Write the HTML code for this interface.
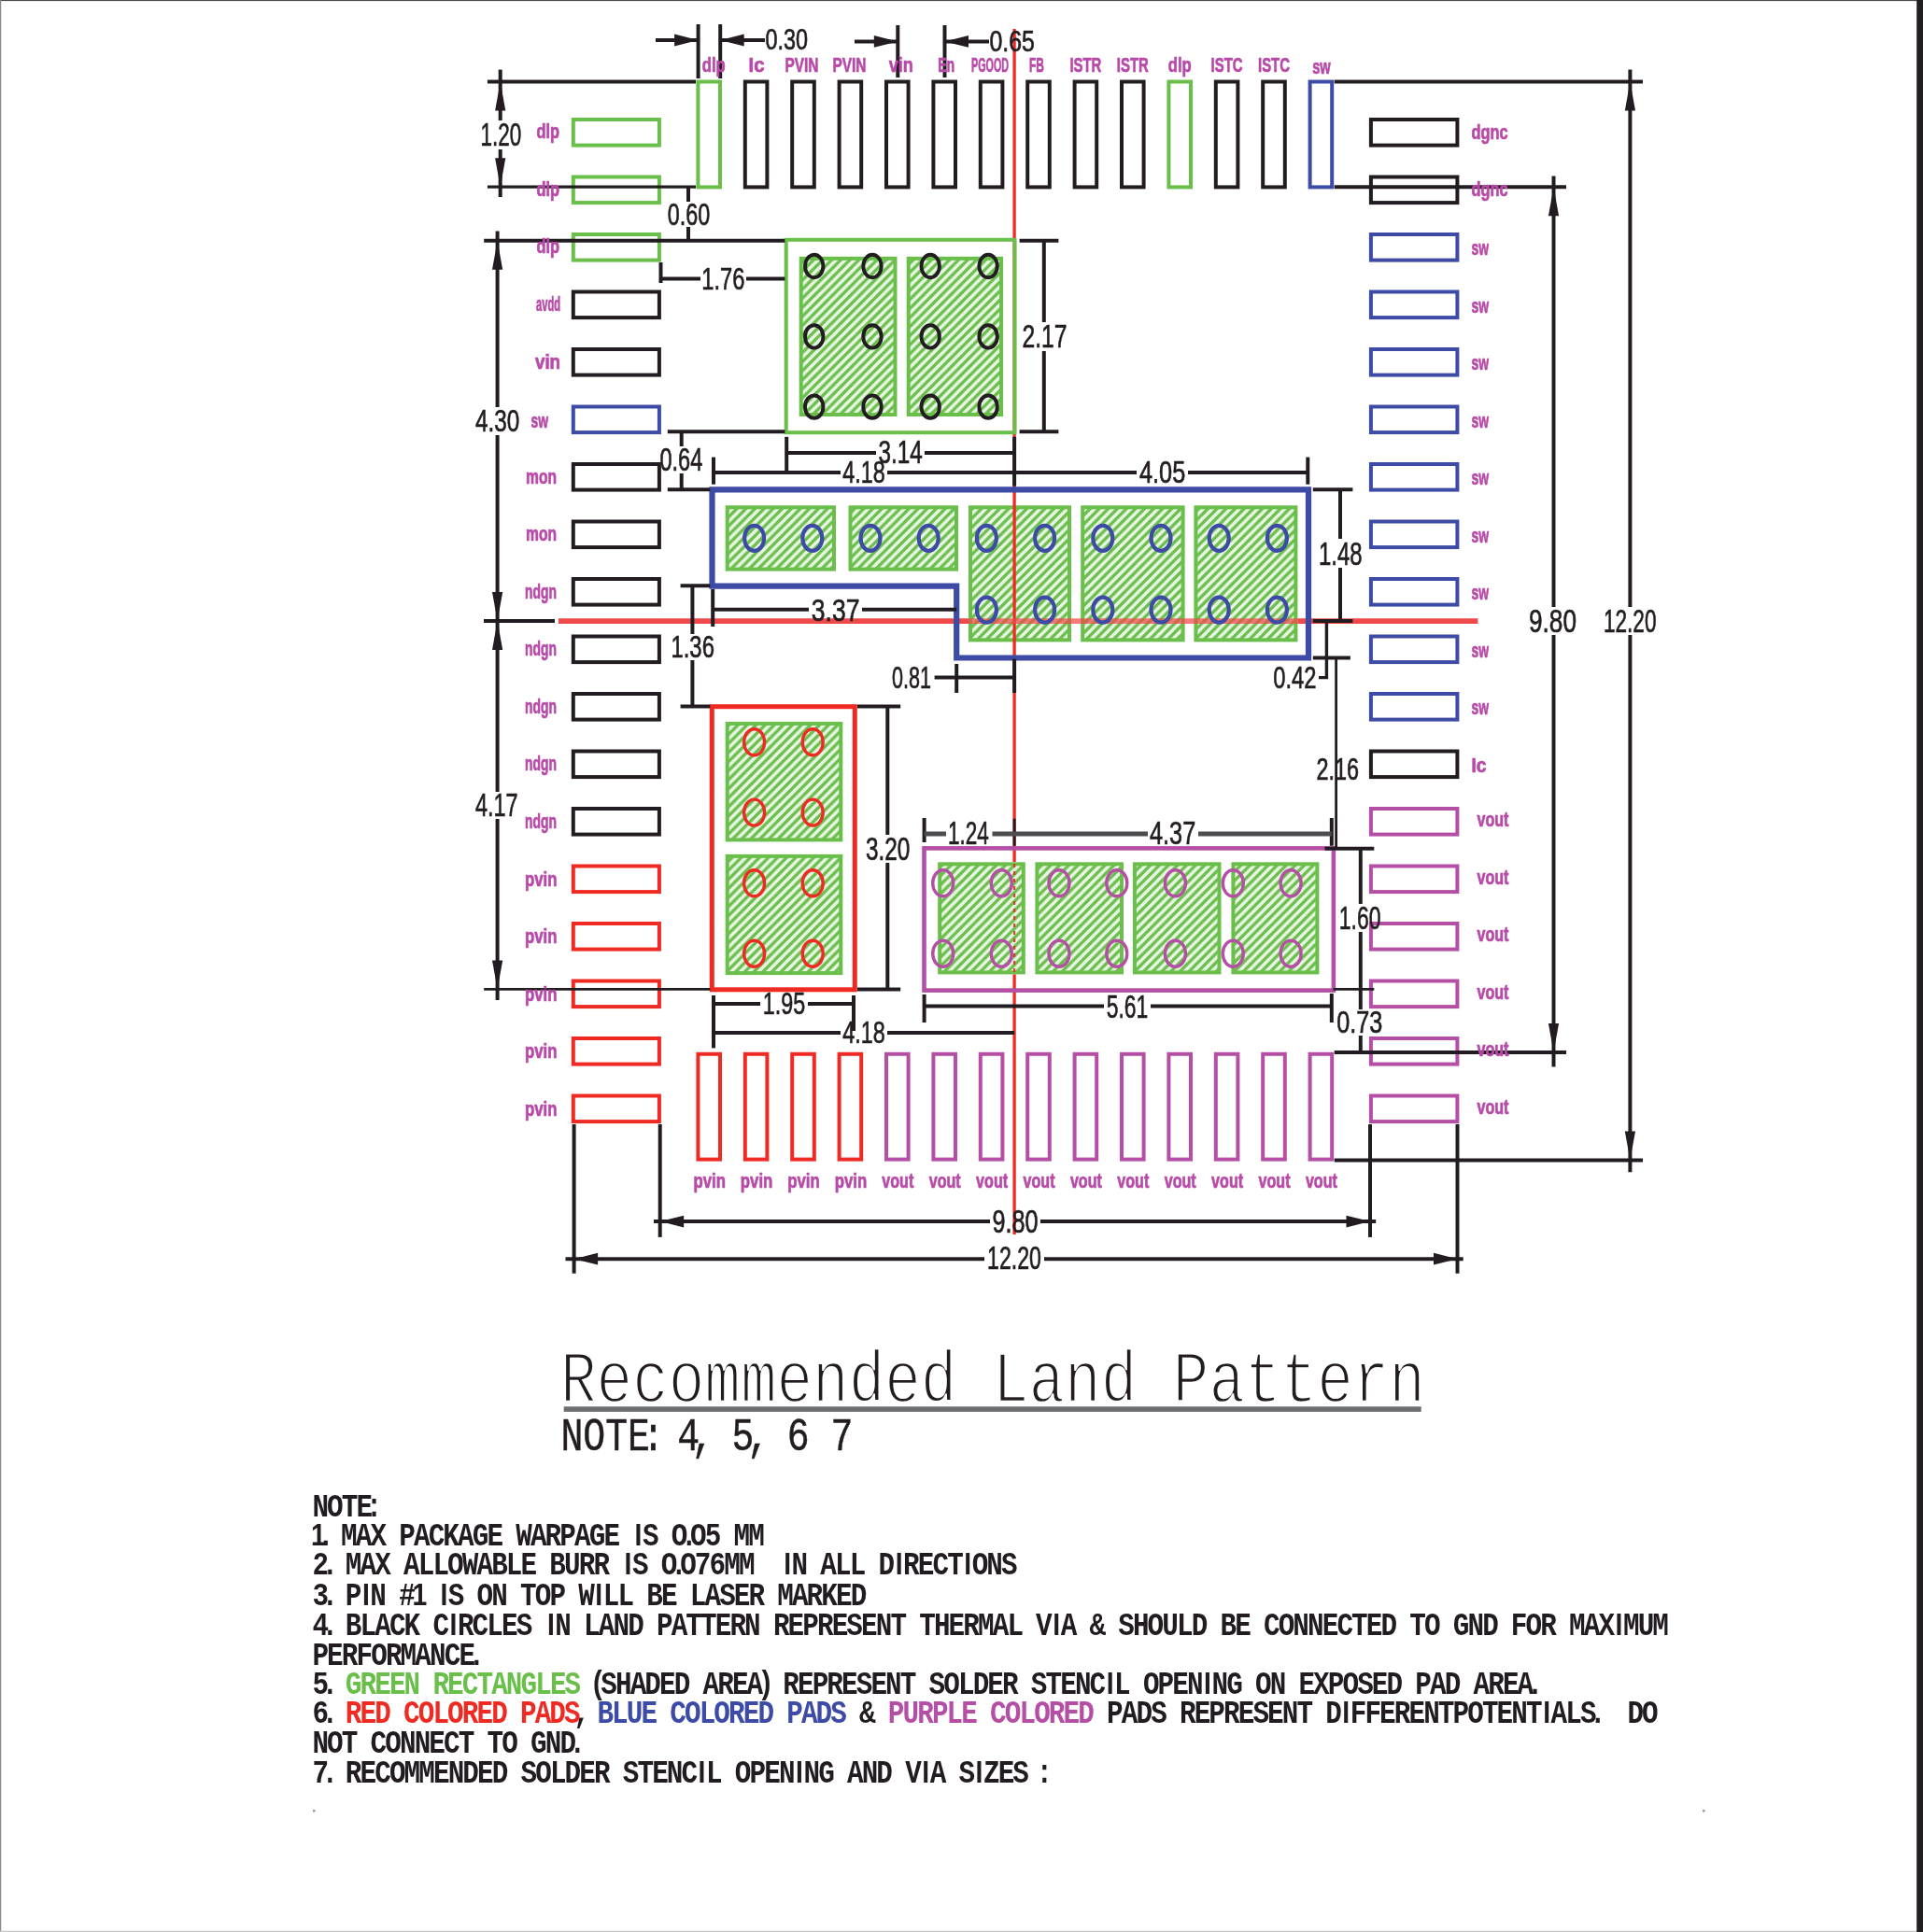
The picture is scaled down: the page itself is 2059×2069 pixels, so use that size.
<!DOCTYPE html>
<html><head><meta charset="utf-8"><title>Recommended Land Pattern</title>
<style>
html,body{margin:0;padding:0;background:#fff;}
body{width:2059px;height:2069px;overflow:hidden;position:relative;font-family:"Liberation Sans",sans-serif;}
svg{position:absolute;left:0;top:0;display:block;}
</style></head><body>
<svg width="2059" height="2069" viewBox="0 0 2059 2069">
<defs>
<pattern id="h" width="9.7" height="9.7" patternUnits="userSpaceOnUse">
<rect width="9.7" height="9.7" fill="#6abf4b"/>
<path d="M-2.425 2.425L2.425 -2.425M-2.425 12.125L12.125 -2.425M7.275 12.125L12.125 7.275" stroke="#fff" stroke-width="3.6" opacity="0.85"/>
</pattern>
<filter id="bl" x="0" y="0" width="100%" height="100%" filterUnits="userSpaceOnUse"><feGaussianBlur stdDeviation="0.7"/></filter>
</defs>
<rect width="2059" height="2069" fill="#fff"/>
<g filter="url(#bl)">
<rect x="855.7" y="274.8" width="104.8" height="171.2" fill="#6abf4b"/>
<rect x="859.7" y="278.8" width="96.8" height="163.2" fill="url(#h)"/>
<rect x="970.7" y="274.8" width="103.4" height="171.2" fill="#6abf4b"/>
<rect x="974.7" y="278.8" width="95.4" height="163.2" fill="url(#h)"/>
<rect x="776.7" y="541.3" width="118.3" height="70.3" fill="#6abf4b"/>
<rect x="780.7" y="545.3" width="110.3" height="62.3" fill="url(#h)"/>
<rect x="908.5" y="541.3" width="117.5" height="70.3" fill="#6abf4b"/>
<rect x="912.5" y="545.3" width="109.5" height="62.3" fill="url(#h)"/>
<rect x="1037.0" y="541.3" width="110.0" height="146.1" fill="#6abf4b"/>
<rect x="1041.0" y="545.3" width="102.0" height="138.1" fill="url(#h)"/>
<rect x="1157.2" y="541.3" width="111.4" height="146.1" fill="#6abf4b"/>
<rect x="1161.2" y="545.3" width="103.4" height="138.1" fill="url(#h)"/>
<rect x="1278.4" y="541.3" width="111.0" height="146.1" fill="#6abf4b"/>
<rect x="1282.4" y="545.3" width="103.0" height="138.1" fill="url(#h)"/>
<rect x="776.7" y="772.9" width="125.6" height="128.5" fill="#6abf4b"/>
<rect x="780.7" y="776.9" width="117.6" height="120.5" fill="url(#h)"/>
<rect x="776.7" y="914.9" width="125.6" height="129.2" fill="#6abf4b"/>
<rect x="780.7" y="918.9" width="117.6" height="121.2" fill="url(#h)"/>
<rect x="1004.2" y="923.3" width="93.6" height="120.1" fill="#6abf4b"/>
<rect x="1008.2" y="927.3" width="85.6" height="112.1" fill="url(#h)"/>
<rect x="1108.4" y="923.3" width="94.6" height="120.1" fill="#6abf4b"/>
<rect x="1112.4" y="927.3" width="86.6" height="112.1" fill="url(#h)"/>
<rect x="1212.9" y="923.3" width="94.6" height="120.1" fill="#6abf4b"/>
<rect x="1216.9" y="927.3" width="86.6" height="112.1" fill="url(#h)"/>
<rect x="1318.4" y="923.3" width="94.0" height="120.1" fill="#6abf4b"/>
<rect x="1322.4" y="927.3" width="86.0" height="112.1" fill="url(#h)"/>
<path d="M1086.1 31.0L1086.1 923.0" stroke="#ee2b24" stroke-width="3.3" fill="none"/>
<path d="M1086.1 1043.5L1086.1 1322.0" stroke="#ee2b24" stroke-width="3.3" fill="none"/>
<path d="M1086.1 925V1042" stroke="#ee2b24" stroke-width="2.2" stroke-dasharray="4 4" opacity="0.9"/>
<path d="M598.0 665.1L1037.0 665.1" stroke="#f04848" stroke-width="5.6" fill="none"/>
<path d="M1389.4 665.1L1582.4 665.1" stroke="#f04848" stroke-width="5.6" fill="none"/>
<path d="M1037 665.1H1389.4" stroke="#f04848" stroke-width="5.6" opacity="0.72"/>
<rect x="841.7" y="256.8" width="244.9" height="206.4" stroke="#6abf4b" stroke-width="4" fill="none"/>
<path d="M762.5 524.4H1401V704.5H1024.2V627.6H762.5Z" stroke="#3c4ba6" stroke-width="6.2" fill="none"/>
<rect x="762.3" y="756.7" width="153.0" height="303.1" stroke="#ee2b24" stroke-width="5.0" fill="none"/>
<rect x="989.5" y="908.4" width="438.4" height="152.2" stroke="#b550a6" stroke-width="4.6" fill="none"/>
<ellipse cx="871.7" cy="285.0" rx="9.7" ry="12.2" stroke="#231f20" stroke-width="3.9" fill="none"/>
<ellipse cx="871.7" cy="360.4" rx="9.7" ry="12.2" stroke="#231f20" stroke-width="3.9" fill="none"/>
<ellipse cx="871.7" cy="435.7" rx="9.7" ry="12.2" stroke="#231f20" stroke-width="3.9" fill="none"/>
<ellipse cx="934.0" cy="285.0" rx="9.7" ry="12.2" stroke="#231f20" stroke-width="3.9" fill="none"/>
<ellipse cx="934.0" cy="360.4" rx="9.7" ry="12.2" stroke="#231f20" stroke-width="3.9" fill="none"/>
<ellipse cx="934.0" cy="435.7" rx="9.7" ry="12.2" stroke="#231f20" stroke-width="3.9" fill="none"/>
<ellipse cx="996.2" cy="285.0" rx="9.7" ry="12.2" stroke="#231f20" stroke-width="3.9" fill="none"/>
<ellipse cx="996.2" cy="360.4" rx="9.7" ry="12.2" stroke="#231f20" stroke-width="3.9" fill="none"/>
<ellipse cx="996.2" cy="435.7" rx="9.7" ry="12.2" stroke="#231f20" stroke-width="3.9" fill="none"/>
<ellipse cx="1058.1" cy="285.0" rx="9.7" ry="12.2" stroke="#231f20" stroke-width="3.9" fill="none"/>
<ellipse cx="1058.1" cy="360.4" rx="9.7" ry="12.2" stroke="#231f20" stroke-width="3.9" fill="none"/>
<ellipse cx="1058.1" cy="435.7" rx="9.7" ry="12.2" stroke="#231f20" stroke-width="3.9" fill="none"/>
<ellipse cx="807.6" cy="576.3" rx="10.5" ry="13.5" stroke="#3c4ba6" stroke-width="4.2" fill="none"/>
<ellipse cx="869.8" cy="576.3" rx="10.5" ry="13.5" stroke="#3c4ba6" stroke-width="4.2" fill="none"/>
<ellipse cx="932.0" cy="576.3" rx="10.5" ry="13.5" stroke="#3c4ba6" stroke-width="4.2" fill="none"/>
<ellipse cx="994.2" cy="576.3" rx="10.5" ry="13.5" stroke="#3c4ba6" stroke-width="4.2" fill="none"/>
<ellipse cx="1056.4" cy="576.3" rx="10.5" ry="13.5" stroke="#3c4ba6" stroke-width="4.2" fill="none"/>
<ellipse cx="1056.4" cy="653.1" rx="10.5" ry="13.5" stroke="#3c4ba6" stroke-width="4.2" fill="none"/>
<ellipse cx="1118.6" cy="576.3" rx="10.5" ry="13.5" stroke="#3c4ba6" stroke-width="4.2" fill="none"/>
<ellipse cx="1118.6" cy="653.1" rx="10.5" ry="13.5" stroke="#3c4ba6" stroke-width="4.2" fill="none"/>
<ellipse cx="1180.8" cy="576.3" rx="10.5" ry="13.5" stroke="#3c4ba6" stroke-width="4.2" fill="none"/>
<ellipse cx="1180.8" cy="653.1" rx="10.5" ry="13.5" stroke="#3c4ba6" stroke-width="4.2" fill="none"/>
<ellipse cx="1243.0" cy="576.3" rx="10.5" ry="13.5" stroke="#3c4ba6" stroke-width="4.2" fill="none"/>
<ellipse cx="1243.0" cy="653.1" rx="10.5" ry="13.5" stroke="#3c4ba6" stroke-width="4.2" fill="none"/>
<ellipse cx="1305.2" cy="576.3" rx="10.5" ry="13.5" stroke="#3c4ba6" stroke-width="4.2" fill="none"/>
<ellipse cx="1305.2" cy="653.1" rx="10.5" ry="13.5" stroke="#3c4ba6" stroke-width="4.2" fill="none"/>
<ellipse cx="1367.4" cy="576.3" rx="10.5" ry="13.5" stroke="#3c4ba6" stroke-width="4.2" fill="none"/>
<ellipse cx="1367.4" cy="653.1" rx="10.5" ry="13.5" stroke="#3c4ba6" stroke-width="4.2" fill="none"/>
<ellipse cx="807.6" cy="794.8" rx="11" ry="14" stroke="#ee2b24" stroke-width="3.4" fill="none"/>
<ellipse cx="807.6" cy="870.1" rx="11" ry="14" stroke="#ee2b24" stroke-width="3.4" fill="none"/>
<ellipse cx="807.6" cy="945.8" rx="11" ry="14" stroke="#ee2b24" stroke-width="3.4" fill="none"/>
<ellipse cx="807.6" cy="1021.2" rx="11" ry="14" stroke="#ee2b24" stroke-width="3.4" fill="none"/>
<ellipse cx="870.2" cy="794.8" rx="11" ry="14" stroke="#ee2b24" stroke-width="3.4" fill="none"/>
<ellipse cx="870.2" cy="870.1" rx="11" ry="14" stroke="#ee2b24" stroke-width="3.4" fill="none"/>
<ellipse cx="870.2" cy="945.8" rx="11" ry="14" stroke="#ee2b24" stroke-width="3.4" fill="none"/>
<ellipse cx="870.2" cy="1021.2" rx="11" ry="14" stroke="#ee2b24" stroke-width="3.4" fill="none"/>
<ellipse cx="1009.7" cy="945.8" rx="11" ry="14" stroke="#b550a6" stroke-width="3.4" fill="none"/>
<ellipse cx="1009.7" cy="1021.2" rx="11" ry="14" stroke="#b550a6" stroke-width="3.4" fill="none"/>
<ellipse cx="1072.3" cy="945.8" rx="11" ry="14" stroke="#b550a6" stroke-width="3.4" fill="none"/>
<ellipse cx="1072.3" cy="1021.2" rx="11" ry="14" stroke="#b550a6" stroke-width="3.4" fill="none"/>
<ellipse cx="1134.0" cy="945.8" rx="11" ry="14" stroke="#b550a6" stroke-width="3.4" fill="none"/>
<ellipse cx="1134.0" cy="1021.2" rx="11" ry="14" stroke="#b550a6" stroke-width="3.4" fill="none"/>
<ellipse cx="1195.8" cy="945.8" rx="11" ry="14" stroke="#b550a6" stroke-width="3.4" fill="none"/>
<ellipse cx="1195.8" cy="1021.2" rx="11" ry="14" stroke="#b550a6" stroke-width="3.4" fill="none"/>
<ellipse cx="1258.4" cy="945.8" rx="11" ry="14" stroke="#b550a6" stroke-width="3.4" fill="none"/>
<ellipse cx="1258.4" cy="1021.2" rx="11" ry="14" stroke="#b550a6" stroke-width="3.4" fill="none"/>
<ellipse cx="1320.3" cy="945.8" rx="11" ry="14" stroke="#b550a6" stroke-width="3.4" fill="none"/>
<ellipse cx="1320.3" cy="1021.2" rx="11" ry="14" stroke="#b550a6" stroke-width="3.4" fill="none"/>
<ellipse cx="1382.1" cy="945.8" rx="11" ry="14" stroke="#b550a6" stroke-width="3.4" fill="none"/>
<ellipse cx="1382.1" cy="1021.2" rx="11" ry="14" stroke="#b550a6" stroke-width="3.4" fill="none"/>
<rect x="747.4" y="87.5" width="23.6" height="112.9" stroke="#6abf4b" stroke-width="4.0" fill="none"/>
<rect x="747.4" y="1128.8" width="23.6" height="112.8" stroke="#ee2b24" stroke-width="4.0" fill="none"/>
<rect x="797.8" y="87.5" width="23.6" height="112.9" stroke="#231f20" stroke-width="4.0" fill="none"/>
<rect x="797.8" y="1128.8" width="23.6" height="112.8" stroke="#ee2b24" stroke-width="4.0" fill="none"/>
<rect x="848.2" y="87.5" width="23.6" height="112.9" stroke="#231f20" stroke-width="4.0" fill="none"/>
<rect x="848.2" y="1128.8" width="23.6" height="112.8" stroke="#ee2b24" stroke-width="4.0" fill="none"/>
<rect x="898.6" y="87.5" width="23.6" height="112.9" stroke="#231f20" stroke-width="4.0" fill="none"/>
<rect x="898.6" y="1128.8" width="23.6" height="112.8" stroke="#ee2b24" stroke-width="4.0" fill="none"/>
<rect x="949.0" y="87.5" width="23.6" height="112.9" stroke="#231f20" stroke-width="4.0" fill="none"/>
<rect x="949.0" y="1128.8" width="23.6" height="112.8" stroke="#b550a6" stroke-width="4.0" fill="none"/>
<rect x="999.4" y="87.5" width="23.6" height="112.9" stroke="#231f20" stroke-width="4.0" fill="none"/>
<rect x="999.4" y="1128.8" width="23.6" height="112.8" stroke="#b550a6" stroke-width="4.0" fill="none"/>
<rect x="1049.8" y="87.5" width="23.6" height="112.9" stroke="#231f20" stroke-width="4.0" fill="none"/>
<rect x="1049.8" y="1128.8" width="23.6" height="112.8" stroke="#b550a6" stroke-width="4.0" fill="none"/>
<rect x="1100.2" y="87.5" width="23.6" height="112.9" stroke="#231f20" stroke-width="4.0" fill="none"/>
<rect x="1100.2" y="1128.8" width="23.6" height="112.8" stroke="#b550a6" stroke-width="4.0" fill="none"/>
<rect x="1150.6" y="87.5" width="23.6" height="112.9" stroke="#231f20" stroke-width="4.0" fill="none"/>
<rect x="1150.6" y="1128.8" width="23.6" height="112.8" stroke="#b550a6" stroke-width="4.0" fill="none"/>
<rect x="1201.0" y="87.5" width="23.6" height="112.9" stroke="#231f20" stroke-width="4.0" fill="none"/>
<rect x="1201.0" y="1128.8" width="23.6" height="112.8" stroke="#b550a6" stroke-width="4.0" fill="none"/>
<rect x="1251.4" y="87.5" width="23.6" height="112.9" stroke="#6abf4b" stroke-width="4.0" fill="none"/>
<rect x="1251.4" y="1128.8" width="23.6" height="112.8" stroke="#b550a6" stroke-width="4.0" fill="none"/>
<rect x="1301.8" y="87.5" width="23.6" height="112.9" stroke="#231f20" stroke-width="4.0" fill="none"/>
<rect x="1301.8" y="1128.8" width="23.6" height="112.8" stroke="#b550a6" stroke-width="4.0" fill="none"/>
<rect x="1352.2" y="87.5" width="23.6" height="112.9" stroke="#231f20" stroke-width="4.0" fill="none"/>
<rect x="1352.2" y="1128.8" width="23.6" height="112.8" stroke="#b550a6" stroke-width="4.0" fill="none"/>
<rect x="1402.6" y="87.5" width="23.6" height="112.9" stroke="#3c4ba6" stroke-width="4.0" fill="none"/>
<rect x="1402.6" y="1128.8" width="23.6" height="112.8" stroke="#b550a6" stroke-width="4.0" fill="none"/>
<rect x="613.8" y="128.0" width="92.1" height="27.6" stroke="#6abf4b" stroke-width="4.0" fill="none"/>
<rect x="1467.9" y="128.0" width="92.5" height="27.6" stroke="#231f20" stroke-width="4.0" fill="none"/>
<rect x="613.8" y="189.5" width="92.1" height="27.6" stroke="#6abf4b" stroke-width="4.0" fill="none"/>
<rect x="1467.9" y="189.5" width="92.5" height="27.6" stroke="#231f20" stroke-width="4.0" fill="none"/>
<rect x="613.8" y="251.0" width="92.1" height="27.6" stroke="#6abf4b" stroke-width="4.0" fill="none"/>
<rect x="1467.9" y="251.0" width="92.5" height="27.6" stroke="#3c4ba6" stroke-width="4.0" fill="none"/>
<rect x="613.8" y="312.5" width="92.1" height="27.6" stroke="#231f20" stroke-width="4.0" fill="none"/>
<rect x="1467.9" y="312.5" width="92.5" height="27.6" stroke="#3c4ba6" stroke-width="4.0" fill="none"/>
<rect x="613.8" y="374.0" width="92.1" height="27.6" stroke="#231f20" stroke-width="4.0" fill="none"/>
<rect x="1467.9" y="374.0" width="92.5" height="27.6" stroke="#3c4ba6" stroke-width="4.0" fill="none"/>
<rect x="613.8" y="435.5" width="92.1" height="27.6" stroke="#3c4ba6" stroke-width="4.0" fill="none"/>
<rect x="1467.9" y="435.5" width="92.5" height="27.6" stroke="#3c4ba6" stroke-width="4.0" fill="none"/>
<rect x="613.8" y="497.0" width="92.1" height="27.6" stroke="#231f20" stroke-width="4.0" fill="none"/>
<rect x="1467.9" y="497.0" width="92.5" height="27.6" stroke="#3c4ba6" stroke-width="4.0" fill="none"/>
<rect x="613.8" y="558.5" width="92.1" height="27.6" stroke="#231f20" stroke-width="4.0" fill="none"/>
<rect x="1467.9" y="558.5" width="92.5" height="27.6" stroke="#3c4ba6" stroke-width="4.0" fill="none"/>
<rect x="613.8" y="620.0" width="92.1" height="27.6" stroke="#231f20" stroke-width="4.0" fill="none"/>
<rect x="1467.9" y="620.0" width="92.5" height="27.6" stroke="#3c4ba6" stroke-width="4.0" fill="none"/>
<rect x="613.8" y="681.5" width="92.1" height="27.6" stroke="#231f20" stroke-width="4.0" fill="none"/>
<rect x="1467.9" y="681.5" width="92.5" height="27.6" stroke="#3c4ba6" stroke-width="4.0" fill="none"/>
<rect x="613.8" y="743.0" width="92.1" height="27.6" stroke="#231f20" stroke-width="4.0" fill="none"/>
<rect x="1467.9" y="743.0" width="92.5" height="27.6" stroke="#3c4ba6" stroke-width="4.0" fill="none"/>
<rect x="613.8" y="804.5" width="92.1" height="27.6" stroke="#231f20" stroke-width="4.0" fill="none"/>
<rect x="1467.9" y="804.5" width="92.5" height="27.6" stroke="#231f20" stroke-width="4.0" fill="none"/>
<rect x="613.8" y="866.0" width="92.1" height="27.6" stroke="#231f20" stroke-width="4.0" fill="none"/>
<rect x="1467.9" y="866.0" width="92.5" height="27.6" stroke="#b550a6" stroke-width="4.0" fill="none"/>
<rect x="613.8" y="927.5" width="92.1" height="27.6" stroke="#ee2b24" stroke-width="4.0" fill="none"/>
<rect x="1467.9" y="927.5" width="92.5" height="27.6" stroke="#b550a6" stroke-width="4.0" fill="none"/>
<rect x="613.8" y="989.0" width="92.1" height="27.6" stroke="#ee2b24" stroke-width="4.0" fill="none"/>
<rect x="1467.9" y="989.0" width="92.5" height="27.6" stroke="#b550a6" stroke-width="4.0" fill="none"/>
<rect x="613.8" y="1050.5" width="92.1" height="27.6" stroke="#ee2b24" stroke-width="4.0" fill="none"/>
<rect x="1467.9" y="1050.5" width="92.5" height="27.6" stroke="#b550a6" stroke-width="4.0" fill="none"/>
<rect x="613.8" y="1112.0" width="92.1" height="27.6" stroke="#ee2b24" stroke-width="4.0" fill="none"/>
<rect x="1467.9" y="1112.0" width="92.5" height="27.6" stroke="#b550a6" stroke-width="4.0" fill="none"/>
<rect x="613.8" y="1173.5" width="92.1" height="27.6" stroke="#ee2b24" stroke-width="4.0" fill="none"/>
<rect x="1467.9" y="1173.5" width="92.5" height="27.6" stroke="#b550a6" stroke-width="4.0" fill="none"/>
<path d="M747.6 26.0L747.6 84.0" stroke="#231f20" stroke-width="4.0" fill="none"/>
<path d="M771.2 26.0L771.2 84.0" stroke="#231f20" stroke-width="4.0" fill="none"/>
<path d="M702.0 43.0L747.6 43.0" stroke="#231f20" stroke-width="4.0" fill="none"/>
<polygon points="747.6,43.0 722.1,36.6 722.1,49.4" fill="#231f20"/>
<path d="M771.2 43.0L819.0 43.0" stroke="#231f20" stroke-width="4.0" fill="none"/>
<polygon points="771.2,43.0 796.7,36.6 796.7,49.4" fill="#231f20"/>
<text transform="translate(819.5,53.0) scale(0.7647,1)" font-family="Liberation Sans" font-weight="normal" font-size="30.57" fill="#231f20" stroke="#231f20" stroke-width="0.70">0.30</text>
<path d="M961.3 27.0L961.3 83.0" stroke="#231f20" stroke-width="4.0" fill="none"/>
<path d="M1011.5 27.0L1011.5 83.0" stroke="#231f20" stroke-width="4.0" fill="none"/>
<path d="M915.0 44.4L961.3 44.4" stroke="#231f20" stroke-width="4.0" fill="none"/>
<polygon points="961.3,44.4 935.8,38.0 935.8,50.8" fill="#231f20"/>
<path d="M1011.5 44.4L1059.0 44.4" stroke="#231f20" stroke-width="4.0" fill="none"/>
<polygon points="1011.5,44.4 1037.0,38.0 1037.0,50.8" fill="#231f20"/>
<text transform="translate(1059.5,54.8) scale(0.8151,1)" font-family="Liberation Sans" font-weight="normal" font-size="30.57" fill="#231f20" stroke="#231f20" stroke-width="0.70">0.65</text>
<path d="M521.9 87.4L745.0 87.4" stroke="#231f20" stroke-width="4.0" fill="none"/>
<path d="M521.9 200.2L745.0 200.2" stroke="#231f20" stroke-width="3.2" fill="none"/>
<path d="M535.7 74.6L535.7 129.0" stroke="#231f20" stroke-width="4.0" fill="none"/>
<path d="M535.7 160.0L535.7 211.0" stroke="#231f20" stroke-width="4.0" fill="none"/>
<polygon points="535.7,87.4 530.1,118.4 541.3,118.4" fill="#231f20"/>
<polygon points="535.7,200.2 530.1,169.2 541.3,169.2" fill="#231f20"/>
<text transform="translate(514.6,156.0) scale(0.6441,1)" font-family="Liberation Sans" font-weight="normal" font-size="34.86" fill="#231f20" stroke="#231f20" stroke-width="0.70">1.20</text>
<path d="M737.0 200.0L737.0 216.0" stroke="#231f20" stroke-width="4.0" fill="none"/>
<path d="M737.0 243.0L737.0 258.5" stroke="#231f20" stroke-width="4.0" fill="none"/>
<text transform="translate(714.8,240.5) scale(0.7084,1)" font-family="Liberation Sans" font-weight="normal" font-size="33.00" fill="#231f20" stroke="#231f20" stroke-width="0.70">0.60</text>
<path d="M518.2 257.7L840.4 257.7" stroke="#231f20" stroke-width="4.0" fill="none"/>
<path d="M1091.6 257.7L1133.4 257.7" stroke="#231f20" stroke-width="4.0" fill="none"/>
<path d="M532.6 247.5L532.6 436.0" stroke="#231f20" stroke-width="4.0" fill="none"/>
<path d="M532.6 466.0L532.6 665.0" stroke="#231f20" stroke-width="4.0" fill="none"/>
<polygon points="532.6,257.7 527.0,288.7 538.2,288.7" fill="#231f20"/>
<polygon points="532.6,665.0 527.0,634.0 538.2,634.0" fill="#231f20"/>
<text transform="translate(509.0,461.8) scale(0.7348,1)" font-family="Liberation Sans" font-weight="normal" font-size="33.14" fill="#231f20" stroke="#231f20" stroke-width="0.70">4.30</text>
<path d="M518.0 665.0L594.0 665.0" stroke="#231f20" stroke-width="4.0" fill="none"/>
<path d="M707.5 281.0L707.5 303.0" stroke="#231f20" stroke-width="4.0" fill="none"/>
<path d="M707.5 298.5L750.0 298.5" stroke="#231f20" stroke-width="4.0" fill="none"/>
<path d="M799.0 298.5L840.4 298.5" stroke="#231f20" stroke-width="4.0" fill="none"/>
<text transform="translate(751.2,309.6) scale(0.7162,1)" font-family="Liberation Sans" font-weight="normal" font-size="33.14" fill="#231f20" stroke="#231f20" stroke-width="0.70">1.76</text>
<path d="M1117.8 257.7L1117.8 345.0" stroke="#231f20" stroke-width="4.0" fill="none"/>
<path d="M1117.8 376.0L1117.8 462.3" stroke="#231f20" stroke-width="4.0" fill="none"/>
<path d="M1091.6 462.3L1133.4 462.3" stroke="#231f20" stroke-width="4.0" fill="none"/>
<text transform="translate(1094.5,372.2) scale(0.6989,1)" font-family="Liberation Sans" font-weight="normal" font-size="35.29" fill="#231f20" stroke="#231f20" stroke-width="0.70">2.17</text>
<path d="M714.8 462.3L840.4 462.3" stroke="#231f20" stroke-width="4.0" fill="none"/>
<path d="M729.7 462.3L729.7 478.0" stroke="#231f20" stroke-width="4.0" fill="none"/>
<path d="M729.7 507.0L729.7 524.2" stroke="#231f20" stroke-width="4.0" fill="none"/>
<path d="M714.8 524.2L760.3 524.2" stroke="#231f20" stroke-width="4.0" fill="none"/>
<text transform="translate(706.4,504.4) scale(0.6794,1)" font-family="Liberation Sans" font-weight="normal" font-size="34.71" fill="#231f20" stroke="#231f20" stroke-width="0.70">0.64</text>
<path d="M842.2 467.8L842.2 504.2" stroke="#231f20" stroke-width="4.0" fill="none"/>
<path d="M1086.1 467.8L1086.1 520.6" stroke="#231f20" stroke-width="4.0" fill="none"/>
<path d="M842.2 484.9L938.0 484.9" stroke="#231f20" stroke-width="4.0" fill="none"/>
<path d="M990.0 484.9L1086.1 484.9" stroke="#231f20" stroke-width="4.0" fill="none"/>
<text transform="translate(940.5,496.0) scale(0.7088,1)" font-family="Liberation Sans" font-weight="normal" font-size="34.29" fill="#231f20" stroke="#231f20" stroke-width="0.70">3.14</text>
<path d="M764.0 489.6L764.0 518.7" stroke="#231f20" stroke-width="4.0" fill="none"/>
<path d="M1400.3 489.6L1400.3 518.7" stroke="#231f20" stroke-width="4.0" fill="none"/>
<path d="M764.0 506.0L900.0 506.0" stroke="#231f20" stroke-width="4.0" fill="none"/>
<path d="M950.0 506.0L1217.0 506.0" stroke="#231f20" stroke-width="4.0" fill="none"/>
<path d="M1272.0 506.0L1400.3 506.0" stroke="#231f20" stroke-width="4.0" fill="none"/>
<text transform="translate(902.3,517.2) scale(0.6993,1)" font-family="Liberation Sans" font-weight="normal" font-size="33.43" fill="#231f20" stroke="#231f20" stroke-width="0.70">4.18</text>
<text transform="translate(1220.0,517.2) scale(0.7577,1)" font-family="Liberation Sans" font-weight="normal" font-size="33.43" fill="#231f20" stroke="#231f20" stroke-width="0.70">4.05</text>
<path d="M1435.0 524.2L1435.0 577.0" stroke="#231f20" stroke-width="4.0" fill="none"/>
<path d="M1435.0 608.0L1435.0 665.0" stroke="#231f20" stroke-width="4.0" fill="none"/>
<path d="M1405.8 524.2L1448.4 524.2" stroke="#231f20" stroke-width="4.0" fill="none"/>
<path d="M1405.8 665.0L1448.4 665.0" stroke="#231f20" stroke-width="4.0" fill="none"/>
<text transform="translate(1412.0,604.5) scale(0.6677,1)" font-family="Liberation Sans" font-weight="normal" font-size="35.86" fill="#231f20" stroke="#231f20" stroke-width="0.70">1.48</text>
<path d="M763.2 631.0L763.2 671.0" stroke="#231f20" stroke-width="4.0" fill="none"/>
<path d="M764.0 652.8L866.0 652.8" stroke="#231f20" stroke-width="4.0" fill="none"/>
<path d="M923.0 652.8L1024.2 652.8" stroke="#231f20" stroke-width="4.0" fill="none"/>
<text transform="translate(868.8,664.6) scale(0.7780,1)" font-family="Liberation Sans" font-weight="normal" font-size="34.14" fill="#231f20" stroke="#231f20" stroke-width="0.70">3.37</text>
<path d="M728.6 627.3L760.3 627.3" stroke="#231f20" stroke-width="4.0" fill="none"/>
<path d="M728.6 756.5L760.3 756.5" stroke="#231f20" stroke-width="4.0" fill="none"/>
<path d="M741.4 627.3L741.4 679.0" stroke="#231f20" stroke-width="4.0" fill="none"/>
<path d="M741.4 707.0L741.4 756.5" stroke="#231f20" stroke-width="4.0" fill="none"/>
<text transform="translate(718.4,703.9) scale(0.7255,1)" font-family="Liberation Sans" font-weight="normal" font-size="33.00" fill="#231f20" stroke="#231f20" stroke-width="0.70">1.36</text>
<path d="M1024.2 711.0L1024.2 742.0" stroke="#231f20" stroke-width="4.0" fill="none"/>
<path d="M1086.1 705.6L1086.1 742.0" stroke="#231f20" stroke-width="4.0" fill="none"/>
<path d="M1000.6 725.6L1086.1 725.6" stroke="#231f20" stroke-width="4.0" fill="none"/>
<text transform="translate(955.0,736.7) scale(0.6511,1)" font-family="Liberation Sans" font-weight="normal" font-size="33.14" fill="#231f20" stroke="#231f20" stroke-width="0.70">0.81</text>
<path d="M918.0 756.5L964.2 756.5" stroke="#231f20" stroke-width="4.0" fill="none"/>
<path d="M918.0 1059.4L964.2 1059.4" stroke="#231f20" stroke-width="4.0" fill="none"/>
<path d="M950.3 756.5L950.3 894.0" stroke="#231f20" stroke-width="4.0" fill="none"/>
<path d="M950.3 924.0L950.3 1059.4" stroke="#231f20" stroke-width="4.0" fill="none"/>
<text transform="translate(927.0,920.6) scale(0.7103,1)" font-family="Liberation Sans" font-weight="normal" font-size="34.29" fill="#231f20" stroke="#231f20" stroke-width="0.70">3.20</text>
<path d="M532.6 665.0L532.6 848.0" stroke="#231f20" stroke-width="4.0" fill="none"/>
<path d="M532.6 877.0L532.6 1071.0" stroke="#231f20" stroke-width="4.0" fill="none"/>
<polygon points="532.6,665.0 527.0,696.0 538.2,696.0" fill="#231f20"/>
<polygon points="532.6,1059.4 527.0,1028.4 538.2,1028.4" fill="#231f20"/>
<path d="M518.2 1059.4L760.3 1059.4" stroke="#231f20" stroke-width="2.8" fill="none"/>
<text transform="translate(509.0,874.0) scale(0.6833,1)" font-family="Liberation Sans" font-weight="normal" font-size="34.29" fill="#231f20" stroke="#231f20" stroke-width="0.70">4.17</text>
<path d="M764.0 1066.0L764.0 1122.4" stroke="#231f20" stroke-width="4.0" fill="none"/>
<path d="M914.0 1066.0L914.0 1104.0" stroke="#231f20" stroke-width="4.0" fill="none"/>
<path d="M764.0 1075.0L814.0 1075.0" stroke="#231f20" stroke-width="4.0" fill="none"/>
<path d="M865.0 1075.0L914.0 1075.0" stroke="#231f20" stroke-width="4.0" fill="none"/>
<text transform="translate(816.7,1086.2) scale(0.6993,1)" font-family="Liberation Sans" font-weight="normal" font-size="33.43" fill="#231f20" stroke="#231f20" stroke-width="0.70">1.95</text>
<path d="M764.0 1106.0L900.0 1106.0" stroke="#231f20" stroke-width="4.0" fill="none"/>
<path d="M950.0 1106.0L1086.1 1106.0" stroke="#231f20" stroke-width="4.0" fill="none"/>
<text transform="translate(902.3,1117.2) scale(0.6993,1)" font-family="Liberation Sans" font-weight="normal" font-size="33.43" fill="#231f20" stroke="#231f20" stroke-width="0.70">4.18</text>
<path d="M989.6 876.0L989.6 902.0" stroke="#231f20" stroke-width="4.0" fill="none"/>
<path d="M1086.1 876.7L1086.1 905.8" stroke="#231f20" stroke-width="3.0" fill="none"/>
<path d="M1425.8 876.0L1425.8 905.8" stroke="#231f20" stroke-width="4.0" fill="none"/>
<path d="M989.6 893.0L1013.0 893.0" stroke="#4d4d4f" stroke-width="5.0" fill="none"/>
<path d="M1062.5 893.0L1229.0 893.0" stroke="#4d4d4f" stroke-width="5.0" fill="none"/>
<path d="M1283.0 893.0L1425.8 893.0" stroke="#4d4d4f" stroke-width="5.0" fill="none"/>
<text transform="translate(1015.0,904.2) scale(0.6564,1)" font-family="Liberation Sans" font-weight="normal" font-size="34.29" fill="#231f20" stroke="#231f20" stroke-width="0.70">1.24</text>
<text transform="translate(1231.0,904.2) scale(0.7373,1)" font-family="Liberation Sans" font-weight="normal" font-size="34.29" fill="#231f20" stroke="#231f20" stroke-width="0.70">4.37</text>
<path d="M1405.8 704.5L1445.9 704.5" stroke="#231f20" stroke-width="4.0" fill="none"/>
<path d="M1430.6 704.5L1430.6 907.6" stroke="#231f20" stroke-width="2.8" fill="none"/>
<path d="M1418.5 908.7L1471.3 908.7" stroke="#231f20" stroke-width="4.0" fill="none"/>
<text transform="translate(1409.4,835.0) scale(0.7069,1)" font-family="Liberation Sans" font-weight="normal" font-size="33.14" fill="#231f20" stroke="#231f20" stroke-width="0.70">2.16</text>
<path d="M1420.4 665.5V725.6H1412" stroke="#231f20" stroke-width="3.4" fill="none"/>
<text transform="translate(1363.2,736.7) scale(0.7162,1)" font-family="Liberation Sans" font-weight="normal" font-size="33.14" fill="#231f20" stroke="#231f20" stroke-width="0.70">0.42</text>
<path d="M1456.8 908.7L1456.8 968.0" stroke="#231f20" stroke-width="4.0" fill="none"/>
<path d="M1456.8 998.0L1456.8 1081.0" stroke="#231f20" stroke-width="4.0" fill="none"/>
<path d="M1456.8 1109.0L1456.8 1127.1" stroke="#231f20" stroke-width="4.0" fill="none"/>
<path d="M1427.6 1059.4L1471.3 1059.4" stroke="#231f20" stroke-width="2.8" fill="none"/>
<text transform="translate(1433.8,995.2) scale(0.6419,1)" font-family="Liberation Sans" font-weight="normal" font-size="35.86" fill="#231f20" stroke="#231f20" stroke-width="0.70">1.60</text>
<path d="M1425.8 1064.0L1425.8 1095.0" stroke="#231f20" stroke-width="4.0" fill="none"/>
<text transform="translate(1431.3,1106.2) scale(0.7612,1)" font-family="Liberation Sans" font-weight="normal" font-size="33.14" fill="#231f20" stroke="#231f20" stroke-width="0.70">0.73</text>
<path d="M989.6 1065.0L989.6 1095.0" stroke="#231f20" stroke-width="4.0" fill="none"/>
<path d="M989.6 1077.6L1182.0 1077.6" stroke="#231f20" stroke-width="4.0" fill="none"/>
<path d="M1232.0 1077.6L1425.8 1077.6" stroke="#231f20" stroke-width="4.0" fill="none"/>
<text transform="translate(1184.8,1089.8) scale(0.6669,1)" font-family="Liberation Sans" font-weight="normal" font-size="34.29" fill="#231f20" stroke="#231f20" stroke-width="0.70">5.61</text>
<path d="M1428.7 200.2L1677.0 200.2" stroke="#231f20" stroke-width="4.0" fill="none"/>
<path d="M1428.7 1127.1L1677.0 1127.1" stroke="#231f20" stroke-width="4.0" fill="none"/>
<path d="M1663.5 188.6L1663.5 650.0" stroke="#231f20" stroke-width="4.0" fill="none"/>
<path d="M1663.5 680.0L1663.5 1142.4" stroke="#231f20" stroke-width="4.0" fill="none"/>
<polygon points="1663.5,200.2 1657.9,231.2 1669.1,231.2" fill="#231f20"/>
<polygon points="1663.5,1127.1 1657.9,1096.1 1669.1,1096.1" fill="#231f20"/>
<text transform="translate(1637.0,677.2) scale(0.7337,1)" font-family="Liberation Sans" font-weight="normal" font-size="35.71" fill="#231f20" stroke="#231f20" stroke-width="0.70">9.80</text>
<path d="M1428.7 87.4L1759.0 87.4" stroke="#231f20" stroke-width="4.0" fill="none"/>
<path d="M1428.7 1242.5L1759.0 1242.5" stroke="#231f20" stroke-width="4.0" fill="none"/>
<path d="M1745.4 74.6L1745.4 650.0" stroke="#231f20" stroke-width="4.0" fill="none"/>
<path d="M1745.4 680.0L1745.4 1255.3" stroke="#231f20" stroke-width="4.0" fill="none"/>
<polygon points="1745.4,87.4 1739.8,118.4 1751.0,118.4" fill="#231f20"/>
<polygon points="1745.4,1242.5 1739.8,1211.5 1751.0,1211.5" fill="#231f20"/>
<text transform="translate(1717.0,677.2) scale(0.6322,1)" font-family="Liberation Sans" font-weight="normal" font-size="35.71" fill="#231f20" stroke="#231f20" stroke-width="0.70">12.20</text>
<path d="M614.6 1204.0L614.6 1363.8" stroke="#231f20" stroke-width="4.0" fill="none"/>
<path d="M706.7 1204.0L706.7 1324.9" stroke="#231f20" stroke-width="4.0" fill="none"/>
<path d="M1467.0 1204.0L1467.0 1324.9" stroke="#231f20" stroke-width="4.0" fill="none"/>
<path d="M1560.5 1204.0L1560.5 1363.8" stroke="#231f20" stroke-width="4.0" fill="none"/>
<path d="M700.0 1308.1L1060.0 1308.1" stroke="#231f20" stroke-width="4.0" fill="none"/>
<path d="M1114.0 1308.1L1473.2 1308.1" stroke="#231f20" stroke-width="4.0" fill="none"/>
<polygon points="706.7,1308.1 732.2,1301.7 732.2,1314.5" fill="#231f20"/>
<polygon points="1467.0,1308.1 1441.5,1301.7 1441.5,1314.5" fill="#231f20"/>
<text transform="translate(1062.4,1319.6) scale(0.7267,1)" font-family="Liberation Sans" font-weight="normal" font-size="34.71" fill="#231f20" stroke="#231f20" stroke-width="0.70">9.80</text>
<path d="M605.5 1348.2L1054.0 1348.2" stroke="#231f20" stroke-width="4.0" fill="none"/>
<path d="M1118.0 1348.2L1566.7 1348.2" stroke="#231f20" stroke-width="4.0" fill="none"/>
<polygon points="614.6,1348.2 640.1,1341.8 640.1,1354.6" fill="#231f20"/>
<polygon points="1560.5,1348.2 1535.0,1341.8 1535.0,1354.6" fill="#231f20"/>
<text transform="translate(1057.0,1359.2) scale(0.6595,1)" font-family="Liberation Sans" font-weight="normal" font-size="35.14" fill="#231f20" stroke="#231f20" stroke-width="0.70">12.20</text>
<text transform="translate(764.2,77.2) scale(0.741,1)" text-anchor="middle" font-family="Liberation Sans" font-weight="bold" font-size="22.5" fill="#b84aa8" stroke="#b84aa8" stroke-width="0.7">dlp</text>
<text transform="translate(810.1,77.2) scale(0.906,1)" text-anchor="middle" font-family="Liberation Sans" font-weight="bold" font-size="22.5" fill="#b84aa8" stroke="#b84aa8" stroke-width="0.7">Ic</text>
<text transform="translate(858.5,77.2) scale(0.686,1)" text-anchor="middle" font-family="Liberation Sans" font-weight="bold" font-size="22.5" fill="#b84aa8" stroke="#b84aa8" stroke-width="0.7">PVIN</text>
<text transform="translate(909.4,77.2) scale(0.686,1)" text-anchor="middle" font-family="Liberation Sans" font-weight="bold" font-size="22.5" fill="#b84aa8" stroke="#b84aa8" stroke-width="0.7">PVIN</text>
<text transform="translate(964.8,77.2) scale(0.800,1)" text-anchor="middle" font-family="Liberation Sans" font-weight="bold" font-size="22.5" fill="#b84aa8" stroke="#b84aa8" stroke-width="0.7">vin</text>
<text transform="translate(1013.2,77.2) scale(0.626,1)" text-anchor="middle" font-family="Liberation Sans" font-weight="bold" font-size="22.5" fill="#b84aa8" stroke="#b84aa8" stroke-width="0.7">En</text>
<text transform="translate(1060.1,77.2) scale(0.478,1)" text-anchor="middle" font-family="Liberation Sans" font-weight="bold" font-size="22.5" fill="#b84aa8" stroke="#b84aa8" stroke-width="0.7">PGOOD</text>
<text transform="translate(1110.0,77.2) scale(0.533,1)" text-anchor="middle" font-family="Liberation Sans" font-weight="bold" font-size="22.5" fill="#b84aa8" stroke="#b84aa8" stroke-width="0.7">FB</text>
<text transform="translate(1162.4,77.2) scale(0.663,1)" text-anchor="middle" font-family="Liberation Sans" font-weight="bold" font-size="22.5" fill="#b84aa8" stroke="#b84aa8" stroke-width="0.7">ISTR</text>
<text transform="translate(1212.8,77.2) scale(0.663,1)" text-anchor="middle" font-family="Liberation Sans" font-weight="bold" font-size="22.5" fill="#b84aa8" stroke="#b84aa8" stroke-width="0.7">ISTR</text>
<text transform="translate(1263.2,77.2) scale(0.741,1)" text-anchor="middle" font-family="Liberation Sans" font-weight="bold" font-size="22.5" fill="#b84aa8" stroke="#b84aa8" stroke-width="0.7">dlp</text>
<text transform="translate(1313.6,77.2) scale(0.663,1)" text-anchor="middle" font-family="Liberation Sans" font-weight="bold" font-size="22.5" fill="#b84aa8" stroke="#b84aa8" stroke-width="0.7">ISTC</text>
<text transform="translate(1364.0,77.2) scale(0.663,1)" text-anchor="middle" font-family="Liberation Sans" font-weight="bold" font-size="22.5" fill="#b84aa8" stroke="#b84aa8" stroke-width="0.7">ISTC</text>
<text transform="translate(1414.9,79.0) scale(0.650,1)" text-anchor="middle" font-family="Liberation Sans" font-weight="bold" font-size="22.5" fill="#b84aa8" stroke="#b84aa8" stroke-width="0.7">sw</text>
<text transform="translate(759.7,1271.5) scale(0.781,1)" text-anchor="middle" font-family="Liberation Sans" font-weight="bold" font-size="21.5" fill="#b84aa8" stroke="#b84aa8" stroke-width="0.7">pvin</text>
<text transform="translate(810.1,1271.5) scale(0.781,1)" text-anchor="middle" font-family="Liberation Sans" font-weight="bold" font-size="21.5" fill="#b84aa8" stroke="#b84aa8" stroke-width="0.7">pvin</text>
<text transform="translate(860.5,1271.5) scale(0.781,1)" text-anchor="middle" font-family="Liberation Sans" font-weight="bold" font-size="21.5" fill="#b84aa8" stroke="#b84aa8" stroke-width="0.7">pvin</text>
<text transform="translate(910.9,1271.5) scale(0.781,1)" text-anchor="middle" font-family="Liberation Sans" font-weight="bold" font-size="21.5" fill="#b84aa8" stroke="#b84aa8" stroke-width="0.7">pvin</text>
<text transform="translate(961.3,1271.5) scale(0.749,1)" text-anchor="middle" font-family="Liberation Sans" font-weight="bold" font-size="21.5" fill="#b84aa8" stroke="#b84aa8" stroke-width="0.7">vout</text>
<text transform="translate(1011.7,1271.5) scale(0.749,1)" text-anchor="middle" font-family="Liberation Sans" font-weight="bold" font-size="21.5" fill="#b84aa8" stroke="#b84aa8" stroke-width="0.7">vout</text>
<text transform="translate(1062.1,1271.5) scale(0.749,1)" text-anchor="middle" font-family="Liberation Sans" font-weight="bold" font-size="21.5" fill="#b84aa8" stroke="#b84aa8" stroke-width="0.7">vout</text>
<text transform="translate(1112.5,1271.5) scale(0.749,1)" text-anchor="middle" font-family="Liberation Sans" font-weight="bold" font-size="21.5" fill="#b84aa8" stroke="#b84aa8" stroke-width="0.7">vout</text>
<text transform="translate(1162.9,1271.5) scale(0.749,1)" text-anchor="middle" font-family="Liberation Sans" font-weight="bold" font-size="21.5" fill="#b84aa8" stroke="#b84aa8" stroke-width="0.7">vout</text>
<text transform="translate(1213.3,1271.5) scale(0.749,1)" text-anchor="middle" font-family="Liberation Sans" font-weight="bold" font-size="21.5" fill="#b84aa8" stroke="#b84aa8" stroke-width="0.7">vout</text>
<text transform="translate(1263.7,1271.5) scale(0.749,1)" text-anchor="middle" font-family="Liberation Sans" font-weight="bold" font-size="21.5" fill="#b84aa8" stroke="#b84aa8" stroke-width="0.7">vout</text>
<text transform="translate(1314.1,1271.5) scale(0.749,1)" text-anchor="middle" font-family="Liberation Sans" font-weight="bold" font-size="21.5" fill="#b84aa8" stroke="#b84aa8" stroke-width="0.7">vout</text>
<text transform="translate(1364.5,1271.5) scale(0.749,1)" text-anchor="middle" font-family="Liberation Sans" font-weight="bold" font-size="21.5" fill="#b84aa8" stroke="#b84aa8" stroke-width="0.7">vout</text>
<text transform="translate(1414.9,1271.5) scale(0.749,1)" text-anchor="middle" font-family="Liberation Sans" font-weight="bold" font-size="21.5" fill="#b84aa8" stroke="#b84aa8" stroke-width="0.7">vout</text>
<text transform="translate(599.0,148.3) scale(0.760,1)" text-anchor="end" font-family="Liberation Sans" font-weight="bold" font-size="21.5" fill="#b84aa8" stroke="#b84aa8" stroke-width="0.7">dlp</text>
<text transform="translate(599.0,209.8) scale(0.760,1)" text-anchor="end" font-family="Liberation Sans" font-weight="bold" font-size="21.5" fill="#b84aa8" stroke="#b84aa8" stroke-width="0.7">dlp</text>
<text transform="translate(599.0,271.3) scale(0.760,1)" text-anchor="end" font-family="Liberation Sans" font-weight="bold" font-size="21.5" fill="#b84aa8" stroke="#b84aa8" stroke-width="0.7">dlp</text>
<text transform="translate(600.0,333.3) scale(0.518,1)" text-anchor="end" font-family="Liberation Sans" font-weight="bold" font-size="21.5" fill="#b84aa8" stroke="#b84aa8" stroke-width="0.7">avdd</text>
<text transform="translate(600.0,394.8) scale(0.869,1)" text-anchor="end" font-family="Liberation Sans" font-weight="bold" font-size="21.5" fill="#b84aa8" stroke="#b84aa8" stroke-width="0.7">vin</text>
<text transform="translate(587.0,458.3) scale(0.645,1)" text-anchor="end" font-family="Liberation Sans" font-weight="bold" font-size="21.5" fill="#b84aa8" stroke="#b84aa8" stroke-width="0.7">sw</text>
<text transform="translate(596.0,517.8) scale(0.727,1)" text-anchor="end" font-family="Liberation Sans" font-weight="bold" font-size="21.5" fill="#b84aa8" stroke="#b84aa8" stroke-width="0.7">mon</text>
<text transform="translate(596.0,579.3) scale(0.727,1)" text-anchor="end" font-family="Liberation Sans" font-weight="bold" font-size="21.5" fill="#b84aa8" stroke="#b84aa8" stroke-width="0.7">mon</text>
<text transform="translate(596.0,640.8) scale(0.647,1)" text-anchor="end" font-family="Liberation Sans" font-weight="bold" font-size="21.5" fill="#b84aa8" stroke="#b84aa8" stroke-width="0.7">ndgn</text>
<text transform="translate(596.0,702.3) scale(0.647,1)" text-anchor="end" font-family="Liberation Sans" font-weight="bold" font-size="21.5" fill="#b84aa8" stroke="#b84aa8" stroke-width="0.7">ndgn</text>
<text transform="translate(596.0,763.8) scale(0.647,1)" text-anchor="end" font-family="Liberation Sans" font-weight="bold" font-size="21.5" fill="#b84aa8" stroke="#b84aa8" stroke-width="0.7">ndgn</text>
<text transform="translate(596.0,825.3) scale(0.647,1)" text-anchor="end" font-family="Liberation Sans" font-weight="bold" font-size="21.5" fill="#b84aa8" stroke="#b84aa8" stroke-width="0.7">ndgn</text>
<text transform="translate(596.0,886.8) scale(0.647,1)" text-anchor="end" font-family="Liberation Sans" font-weight="bold" font-size="21.5" fill="#b84aa8" stroke="#b84aa8" stroke-width="0.7">ndgn</text>
<text transform="translate(596.5,948.9) scale(0.781,1)" text-anchor="end" font-family="Liberation Sans" font-weight="bold" font-size="21.5" fill="#b84aa8" stroke="#b84aa8" stroke-width="0.7">pvin</text>
<text transform="translate(596.5,1010.4) scale(0.781,1)" text-anchor="end" font-family="Liberation Sans" font-weight="bold" font-size="21.5" fill="#b84aa8" stroke="#b84aa8" stroke-width="0.7">pvin</text>
<text transform="translate(596.5,1071.9) scale(0.781,1)" text-anchor="end" font-family="Liberation Sans" font-weight="bold" font-size="21.5" fill="#b84aa8" stroke="#b84aa8" stroke-width="0.7">pvin</text>
<text transform="translate(596.5,1133.4) scale(0.781,1)" text-anchor="end" font-family="Liberation Sans" font-weight="bold" font-size="21.5" fill="#b84aa8" stroke="#b84aa8" stroke-width="0.7">pvin</text>
<text transform="translate(596.5,1194.9) scale(0.781,1)" text-anchor="end" font-family="Liberation Sans" font-weight="bold" font-size="21.5" fill="#b84aa8" stroke="#b84aa8" stroke-width="0.7">pvin</text>
<text transform="translate(1575.5,148.8) scale(0.759,1)" text-anchor="start" font-family="Liberation Sans" font-weight="bold" font-size="21.5" fill="#b84aa8" stroke="#b84aa8" stroke-width="0.7">dgnc</text>
<text transform="translate(1575.5,210.3) scale(0.759,1)" text-anchor="start" font-family="Liberation Sans" font-weight="bold" font-size="21.5" fill="#b84aa8" stroke="#b84aa8" stroke-width="0.7">dgnc</text>
<text transform="translate(1575.5,273.3) scale(0.645,1)" text-anchor="start" font-family="Liberation Sans" font-weight="bold" font-size="21.5" fill="#b84aa8" stroke="#b84aa8" stroke-width="0.7">sw</text>
<text transform="translate(1575.5,334.8) scale(0.645,1)" text-anchor="start" font-family="Liberation Sans" font-weight="bold" font-size="21.5" fill="#b84aa8" stroke="#b84aa8" stroke-width="0.7">sw</text>
<text transform="translate(1575.5,396.3) scale(0.645,1)" text-anchor="start" font-family="Liberation Sans" font-weight="bold" font-size="21.5" fill="#b84aa8" stroke="#b84aa8" stroke-width="0.7">sw</text>
<text transform="translate(1575.5,457.8) scale(0.645,1)" text-anchor="start" font-family="Liberation Sans" font-weight="bold" font-size="21.5" fill="#b84aa8" stroke="#b84aa8" stroke-width="0.7">sw</text>
<text transform="translate(1575.5,519.3) scale(0.645,1)" text-anchor="start" font-family="Liberation Sans" font-weight="bold" font-size="21.5" fill="#b84aa8" stroke="#b84aa8" stroke-width="0.7">sw</text>
<text transform="translate(1575.5,580.8) scale(0.645,1)" text-anchor="start" font-family="Liberation Sans" font-weight="bold" font-size="21.5" fill="#b84aa8" stroke="#b84aa8" stroke-width="0.7">sw</text>
<text transform="translate(1575.5,642.3) scale(0.645,1)" text-anchor="start" font-family="Liberation Sans" font-weight="bold" font-size="21.5" fill="#b84aa8" stroke="#b84aa8" stroke-width="0.7">sw</text>
<text transform="translate(1575.5,703.8) scale(0.645,1)" text-anchor="start" font-family="Liberation Sans" font-weight="bold" font-size="21.5" fill="#b84aa8" stroke="#b84aa8" stroke-width="0.7">sw</text>
<text transform="translate(1575.5,765.3) scale(0.645,1)" text-anchor="start" font-family="Liberation Sans" font-weight="bold" font-size="21.5" fill="#b84aa8" stroke="#b84aa8" stroke-width="0.7">sw</text>
<text transform="translate(1575.5,826.8) scale(0.892,1)" text-anchor="start" font-family="Liberation Sans" font-weight="bold" font-size="21.5" fill="#b84aa8" stroke="#b84aa8" stroke-width="0.7">Ic</text>
<text transform="translate(1581.5,885.3) scale(0.749,1)" text-anchor="start" font-family="Liberation Sans" font-weight="bold" font-size="21.5" fill="#b84aa8" stroke="#b84aa8" stroke-width="0.7">vout</text>
<text transform="translate(1581.5,946.8) scale(0.749,1)" text-anchor="start" font-family="Liberation Sans" font-weight="bold" font-size="21.5" fill="#b84aa8" stroke="#b84aa8" stroke-width="0.7">vout</text>
<text transform="translate(1581.5,1008.3) scale(0.749,1)" text-anchor="start" font-family="Liberation Sans" font-weight="bold" font-size="21.5" fill="#b84aa8" stroke="#b84aa8" stroke-width="0.7">vout</text>
<text transform="translate(1581.5,1069.8) scale(0.749,1)" text-anchor="start" font-family="Liberation Sans" font-weight="bold" font-size="21.5" fill="#b84aa8" stroke="#b84aa8" stroke-width="0.7">vout</text>
<text transform="translate(1581.5,1131.3) scale(0.749,1)" text-anchor="start" font-family="Liberation Sans" font-weight="bold" font-size="21.5" fill="#b84aa8" stroke="#b84aa8" stroke-width="0.7">vout</text>
<text transform="translate(1581.5,1192.8) scale(0.749,1)" text-anchor="start" font-family="Liberation Sans" font-weight="bold" font-size="21.5" fill="#b84aa8" stroke="#b84aa8" stroke-width="0.7">vout</text>
<text transform="translate(600.0,1501.4) scale(0.8222,1)" font-family="Liberation Mono" font-weight="normal" font-size="78.20" fill="#231f20" stroke="#fff" stroke-width="2.43">Recommended Land Pattern</text>
<rect x="603.7" y="1506.3" width="918" height="5.6" fill="#6d6e71"/>
<text transform="translate(600.4,1553.1) scale(0.8101,1)" font-family="Liberation Mono" font-weight="normal" font-size="49.17" fill="#231f20" stroke="#231f20" stroke-width="0.5" x="0.0 29.5 59.0 88.5 107.6 154.1 173.0 225.9 246.3 299.1 356.9">NOTE:4,5,67</text>
<text transform="translate(335.4,1623.7) scale(0.8468,1)" font-family="Liberation Mono" font-weight="bold" font-size="34.59" fill="#231f20" x="-1.1 17.4 35.9 54.5 66.5">NOTE:</text>
<text transform="translate(335.4,1654.9) scale(0.8468,1)" font-family="Liberation Mono" font-weight="bold" font-size="34.59" fill="#231f20" x="5.3 35.1 53.7 72.2 108.6 127.1 145.6 164.1 182.7 201.2 219.7 256.1 274.6 293.1 311.7 330.2 348.7 367.3 416.4 452.8 464.8 476.7 495.3 531.6 550.2">.MAXPACKAGEWARPAGESO.O5MM</text>
<text transform="translate(335.4,1654.9) scale(0.8468,1)" font-family="Liberation Sans" font-weight="bold" font-size="33.43" fill="#231f20" x="-2.8 406.5">1I</text>
<text transform="translate(335.4,1686.0) scale(0.8468,1)" font-family="Liberation Mono" font-weight="bold" font-size="34.59" fill="#231f20" x="-1.1 10.9 40.7 59.2 77.7 114.1 132.6 151.2 169.7 188.2 206.7 225.3 243.8 262.3 298.7 317.2 335.7 354.3 403.4 439.8 451.8 463.8 482.3 500.8 519.3 537.9 604.9 641.2 659.7 678.3 714.6 746.0 764.5 783.0 801.6 832.9 851.4 869.9">2.MAXALLOWABLEBURRSO.O76MMNALLDRECTONS</text>
<text transform="translate(335.4,1686.0) scale(0.8468,1)" font-family="Liberation Sans" font-weight="bold" font-size="33.43" fill="#231f20" x="393.5 594.9 736.0 822.9">IIII</text>
<text transform="translate(335.4,1718.5) scale(0.8468,1)" font-family="Liberation Mono" font-weight="bold" font-size="34.59" fill="#231f20" x="-1.1 10.9 40.7 72.0 108.4 170.5 206.9 225.4 261.8 280.3 298.8 335.2 366.5 385.0 421.4 439.9 476.3 494.8 513.4 531.9 550.4 586.8 605.3 623.8 642.4 660.9 679.4">3.PN#SONTOPWLLBELASERMARKED</text>
<text transform="translate(335.4,1718.5) scale(0.8468,1)" font-family="Liberation Sans" font-weight="bold" font-size="33.43" fill="#231f20" x="62.1 125.2 160.6 356.6">I1II</text>
<text transform="translate(335.4,1750.5) scale(0.8468,1)" font-family="Liberation Mono" font-weight="bold" font-size="34.59" fill="#231f20" x="-1.1 10.9 40.7 59.2 77.7 96.3 114.8 151.2 182.5 201.0 219.5 238.1 256.6 305.8 342.1 360.6 379.2 397.7 434.1 452.6 471.1 489.7 508.2 526.7 545.2 581.6 600.1 618.7 637.2 655.7 674.2 692.8 711.3 729.8 766.2 784.7 803.2 821.8 840.3 858.8 877.4 913.7 945.0 981.4 1017.8 1036.3 1054.8 1073.4 1091.9 1110.4 1146.8 1165.3 1201.7 1220.2 1238.7 1257.2 1275.8 1294.3 1312.8 1331.4 1349.9 1386.2 1404.8 1441.1 1459.7 1478.2 1514.5 1533.1 1551.6 1588.0 1606.5 1625.0 1656.4 1674.9 1693.4">4.BLACKCRCLESNLANDPATTERNREPRESENTTHERMALVA&amp;SHOULDBECONNECTEDTOGNDFORMAXMUM</text>
<text transform="translate(335.4,1750.5) scale(0.8468,1)" font-family="Liberation Sans" font-weight="bold" font-size="33.43" fill="#231f20" x="172.5 295.8 935.1 1646.4">IIII</text>
<text transform="translate(335.4,1782.6) scale(0.8468,1)" font-family="Liberation Mono" font-weight="bold" font-size="34.59" fill="#231f20" x="-1.1 17.4 35.9 54.5 73.0 91.5 110.1 128.6 147.1 165.6 184.2 196.2">PERFORMANCE.</text>
<text transform="translate(335.4,1813.8) scale(0.8468,1)" font-family="Liberation Mono" font-weight="bold" font-size="34.59" fill="#231f20" x="-1.1 10.9">5.</text>
<text transform="translate(370.8,1813.8) scale(0.8468,1)" font-family="Liberation Mono" font-weight="bold" font-size="34.59" fill="#6abf4b" x="-1.1 17.4 35.9 54.5 73.0 109.4 127.9 146.4 164.9 183.5 202.0 220.5 239.1 257.6 276.1">GREENRECTANGLES</text>
<text transform="translate(636.3,1813.8) scale(0.8468,1)" font-family="Liberation Mono" font-weight="bold" font-size="34.59" fill="#231f20" x="-5.7 8.2 26.7 45.3 63.8 82.3 100.9 137.2 155.7 174.3 192.8 206.7 238.5 257.0 275.6 294.1 312.6 331.1 349.7 368.2 386.7 423.1 441.6 460.1 478.7 497.2 515.7 552.1 570.6 589.1 607.7 626.2 657.5 693.9 712.4 730.9 749.5 780.8 799.3 835.7 854.2 890.6 909.1 927.6 946.2 964.7 983.2 1001.8 1038.1 1056.6 1075.2 1111.5 1130.1 1148.6 1167.1 1179.1">(SHADEDAREA)REPRESENTSOLDERSTENCLOPENNGONEXPOSEDPADAREA.</text>
<text transform="translate(636.3,1813.8) scale(0.8468,1)" font-family="Liberation Sans" font-weight="bold" font-size="33.43" fill="#231f20" x="647.6 770.9">II</text>
<text transform="translate(335.4,1845.4) scale(0.8468,1)" font-family="Liberation Mono" font-weight="bold" font-size="34.59" fill="#231f20" x="-1.1 10.9">6.</text>
<text transform="translate(370.8,1845.4) scale(0.8468,1)" font-family="Liberation Mono" font-weight="bold" font-size="34.59" fill="#ee2b24" x="-1.1 17.4 35.9 72.3 90.8 109.4 127.9 146.4 164.9 183.5 219.8 238.4 256.9 275.4">REDCOLOREDPADS</text>
<text transform="translate(620.7,1845.4) scale(0.8468,1)" font-family="Liberation Mono" font-weight="bold" font-size="34.59" fill="#231f20" x="-7.7">,</text>
<text transform="translate(640.4,1845.4) scale(0.8468,1)" font-family="Liberation Mono" font-weight="bold" font-size="34.59" fill="#3c4ba6" x="-1.1 17.4 35.9 54.5 90.8 109.4 127.9 146.4 164.9 183.5 202.0 238.4 256.9 275.4 294.0">BLUECOLOREDPADS</text>
<text transform="translate(921.0,1845.4) scale(0.8468,1)" font-family="Liberation Mono" font-weight="bold" font-size="34.59" fill="#231f20" x="-1.1">&amp;</text>
<text transform="translate(951.8,1845.4) scale(0.8468,1)" font-family="Liberation Mono" font-weight="bold" font-size="34.59" fill="#b550a6" x="-1.1 17.4 35.9 54.5 73.0 91.5 127.9 146.4 164.9 183.5 202.0 220.5 239.1">PURPLECOLORED</text>
<text transform="translate(1186.0,1845.4) scale(0.8468,1)" font-family="Liberation Mono" font-weight="bold" font-size="34.59" fill="#231f20" x="-1.1 17.4 35.9 54.5 90.8 109.4 127.9 146.4 164.9 183.5 202.0 220.5 239.1 275.4 306.8 325.3 343.8 362.3 380.9 399.4 417.9 436.5 455.0 473.5 492.0 510.6 529.1 560.4 579.0 597.5 609.5 657.1 675.6">PADSREPRESENTDFFERENTPOTENTALS.DO</text>
<text transform="translate(1186.0,1845.4) scale(0.8468,1)" font-family="Liberation Sans" font-weight="bold" font-size="33.43" fill="#231f20" x="296.8 550.5">II</text>
<text transform="translate(335.4,1876.6) scale(0.8468,1)" font-family="Liberation Mono" font-weight="bold" font-size="34.59" fill="#231f20" x="-1.1 17.4 35.9 72.3 90.8 109.4 127.9 146.4 164.9 183.5 219.8 238.4 274.7 293.3 311.8 323.8">NOTCONNECTTOGND.</text>
<text transform="translate(335.4,1908.6) scale(0.8468,1)" font-family="Liberation Mono" font-weight="bold" font-size="34.59" fill="#231f20" x="-1.1 10.9 40.7 59.2 77.7 96.3 114.8 133.3 151.9 170.4 188.9 207.4 226.0 262.3 280.9 299.4 317.9 336.4 355.0 391.3 409.9 428.4 446.9 465.4 496.8 533.1 551.7 570.2 588.7 620.0 638.6 674.9 693.5 712.0 748.4 779.7 816.0 847.4 865.9 884.4 914.2">7.RECOMMENDEDSOLDERSTENCLOPENNGANDVASZES:</text>
<text transform="translate(335.4,1908.6) scale(0.8468,1)" font-family="Liberation Sans" font-weight="bold" font-size="33.43" fill="#231f20" x="486.8 610.1 769.7 837.4">IIII</text>
<rect x="335" y="1938" width="2.5" height="2.5" fill="#999"/>
<rect x="1823" y="1938" width="2.5" height="2.5" fill="#999"/>
</g>
<rect x="0" y="0" width="2059" height="1.1" fill="#4a4a4d"/>
<rect x="0" y="0" width="1.2" height="2069" fill="#85888d"/>
<rect x="0" y="2067.8" width="2059" height="1.2" fill="#c3c4c6"/>
<rect x="2052.2" y="0" width="6.8" height="2069" fill="#231f20"/>
</svg>
</body></html>
